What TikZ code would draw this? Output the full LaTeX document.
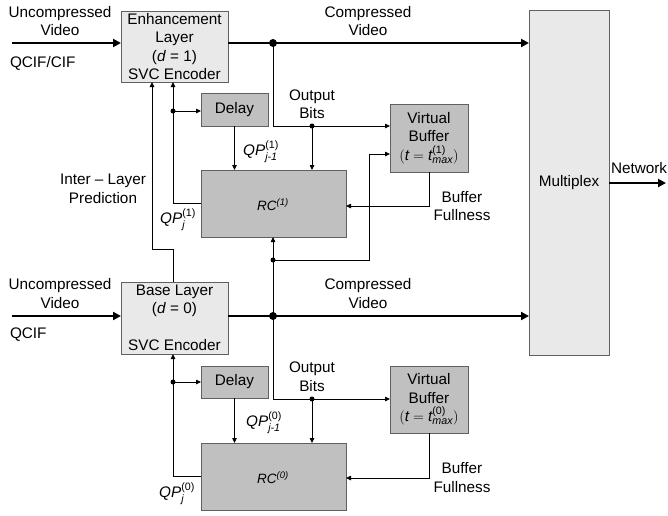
\documentclass[tikz,border=0pt]{standalone}
\usepackage{amsmath}
\usepackage{fontspec}
\setmainfont{Liberation Sans}
\usetikzlibrary{arrows.meta,calc}
\newcommand{\tx}[1]{\text{#1}}
\newcommand{\ti}[1]{\text{\itshape #1}}
\definecolor{lightbox}{HTML}{E9E9E9}
\definecolor{darkbox}{HTML}{C0C0C0}
\definecolor{boxline}{HTML}{606060}
\begin{document}
\begin{tikzpicture}[x=1pt,y=-1pt,
  every node/.style={font=\fontsize{15.3}{18.5}\selectfont, inner sep=0pt, outer sep=0pt},
  box/.style={draw=boxline, line width=0.8pt, align=center, anchor=center},
  lbox/.style={box, fill=lightbox},
  dbox/.style={box, fill=darkbox},
  lbl/.style={align=center},
  thinarr/.style={line width=0.8pt, -{Triangle[length=5pt,width=4.5pt]}},
  thinline/.style={line width=0.8pt},
  thickarr/.style={line width=2.6pt, -{Triangle[length=8pt,width=8pt]}},
  bigdot/.style={circle, fill=black, minimum size=8pt},
  smalldot/.style={circle, fill=black, minimum size=5pt}
]
\useasboundingbox (0,0) rectangle (668,515);

% boxes
\node[lbox, minimum width=107pt, minimum height=71pt] (enh) at (174.5,46.5)
  {Enhancement\\Layer\\(\textit{d} = 1)\\SVC Encoder};
\node[lbox, minimum width=107pt, minimum height=72pt] (base) at (174.5,318)
  {Base Layer\\(\textit{d} = 0)\\ \\SVC Encoder};
\node[dbox, minimum width=67pt, minimum height=33pt] (del1) at (234.5,109.5) {Delay};
\node[dbox, minimum width=67pt, minimum height=32pt] (del0) at (234.5,382) {Delay};
\node[dbox, minimum width=145pt, minimum height=67pt] (rc1) at (273.5,203.5) {};
\node[dbox, minimum width=145pt, minimum height=67pt] (rc0) at (273.5,476.5) {};
\node[font=\fontsize{13.5}{16}\selectfont] (rc1t) at (273,205) {\itshape RC$^{\ti{(1)}}$};
\node[font=\fontsize{13.5}{16}\selectfont] (rc0t) at (273,478) {\itshape RC$^{\ti{(0)}}$};
\node[dbox, minimum width=78pt, minimum height=68pt] (vb1) at (429,138)
  {Virtual\\Buffer\\$(\ti{t} = \ti{t}^{\tx{(1)}}_{\ti{max}})$};
\node[dbox, minimum width=78pt, minimum height=67pt] (vb0) at (429,399.5)
  {Virtual\\Buffer\\$(\ti{t} = \ti{t}^{\tx{(0)}}_{\ti{max}})$};
\node[lbox, minimum width=80pt, minimum height=345pt] (mux) at (569,182.5) {Multiplex};

% labels
\node[lbl] (uv1) at (60,21) {Uncompressed\\Video};
\node[anchor=west] (qcif1) at (10,63) {QCIF/CIF};
\node[lbl] (cv1) at (368,21) {Compressed\\Video};
\node[lbl] (ob1) at (312,104) {Output\\Bits};
\node (qpa1) at (261,152) {$\ti{QP}^{\tx{(1)}}_{\ti{j-1}}$};
\node[lbl] (ilp) at (103,189) {Inter -- Layer\\Prediction};
\node (qpb1) at (178,220) {$\ti{QP}^{\tx{(1)}}_{\ti{j}}$};
\node[lbl] (bf1) at (462,206) {Buffer\\Fullness};
\node[anchor=west] (net) at (611,168) {Network};

\node[lbl] (uv0) at (60,293.5) {Uncompressed\\Video};
\node[anchor=west] (qcif0) at (10,335) {QCIF};
\node[lbl] (cv0) at (368,293.5) {Compressed\\Video};
\node[lbl] (ob0) at (312,376.5) {Output\\Bits};
\node (qpa0) at (264,423) {$\ti{QP}^{\tx{(0)}}_{\ti{j-1}}$};
\node (qpb0) at (177,494) {$\ti{QP}^{\tx{(0)}}_{\ti{j}}$};
\node[lbl] (bf0) at (462,477.5) {Buffer\\Fullness};

% junction coordinates
\coordinate (in1) at (12,43);
\coordinate (in0) at (12,316);
\coordinate (netend) at (666,183);
\coordinate (j1) at (273,43);
\coordinate (j0) at (273,316);
\coordinate (o1) at (312,126);
\coordinate (o0) at (312,399);
\coordinate (dl1) at (173,111);
\coordinate (dl0) at (173,382);
\coordinate (jb) at (273,260);
\coordinate (il) at (152,249);
\coordinate (vx) at (369,154);

% thick arrows
\draw[thickarr] (in1) -- (enh.west |- in1);
\draw[thickarr] (enh.east |- in1) -- (mux.west |- in1);
\draw[thickarr] (in0) -- (base.west |- in0);
\draw[thickarr] (base.east |- in0) -- (mux.west |- in0);
\draw[thickarr] (mux.east |- netend) -- (netend);

% enhancement layer thin connectors
\draw[thinline] (j1) |- (o1);
\draw[thinarr] (o1) -- (vb1.west |- o1);
\draw[thinarr] (o1) -- (o1 |- rc1.north);
\draw[thinarr] (rc1.west) -| (enh.south -| dl1);
\draw[thinarr] (dl1) -- (del1.west |- dl1);
\draw[thinarr] (del1.south) -- (del1.south |- rc1.north);
\draw[thinarr] (base.north -| dl1) |- (il) -- (enh.south -| il);
\draw[thinarr] (j0) -- (rc1.south -| j0);
\draw[thinarr] (jb) -| (vx) -- (vb1.west |- vx);
\draw[thinarr] (vb1.south) |- (rc1.east |- bf1);

% base layer thin connectors
\draw[thinline] (j0) |- (o0);
\draw[thinarr] (o0) -- (vb0.west |- o0);
\draw[thinarr] (o0) -- (o0 |- rc0.north);
\draw[thinarr] (rc0.west) -| (base.south -| dl0);
\draw[thinarr] (dl0) -- (del0.west |- dl0);
\draw[thinarr] (del0.south) -- (del0.south |- rc0.north);
\draw[thinarr] (vb0.south) |- (rc0.east |- rc0t);

% dots
\node[bigdot] (dj1) at (j1) {};
\node[bigdot] (dj0) at (j0) {};
\node[smalldot] (do1) at (o1) {};
\node[smalldot] (do0) at (o0) {};
\node[smalldot] (ddl1) at (dl1) {};
\node[smalldot] (ddl0) at (dl0) {};
\node[smalldot] (djb) at (jb) {};
\end{tikzpicture}
\end{document}
